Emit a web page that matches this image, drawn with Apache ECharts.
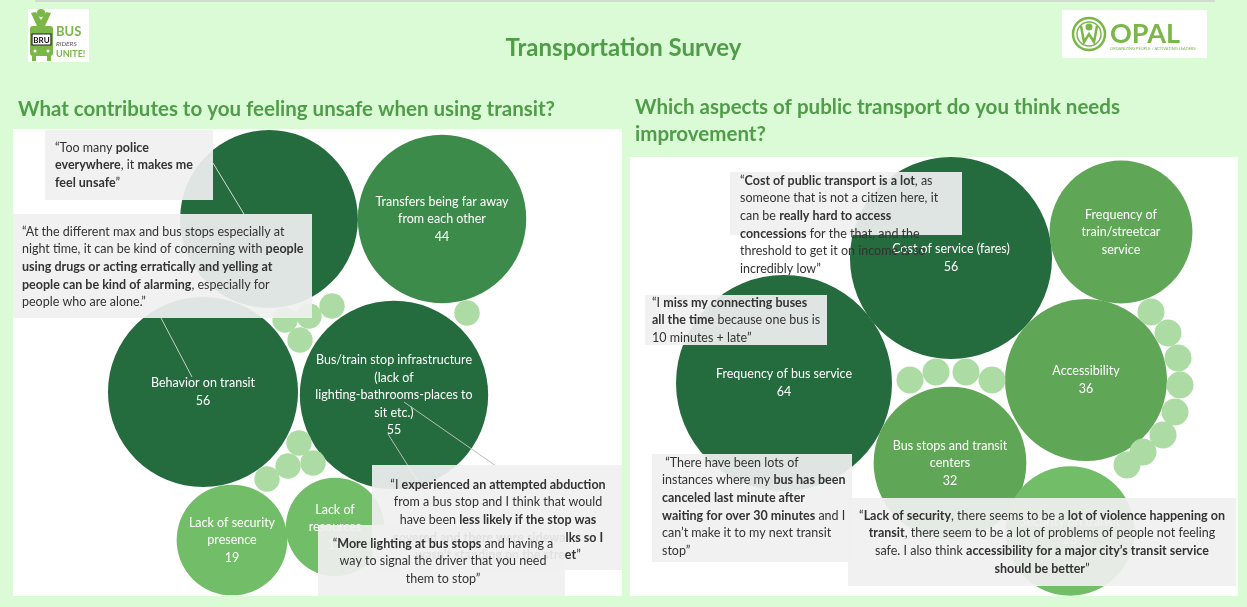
<!DOCTYPE html>
<html>
<head>
<meta charset="utf-8">
<title>Transportation Survey</title>
<script src="https://cdn.jsdelivr.net/npm/echarts@6/dist/echarts.min.js"></script>
<style>
  html, body { margin: 0; padding: 0; background: #dbfad6; }
  #chart { width: 1247px; height: 607px; }
</style>
</head>
<body>
<div id="chart"></div>
<script>
// ---- data ----
// left: "What contributes to you feeling unsafe when using transit?"
const unsafeNames = ['', 'Transfers being far away\nfrom each other', 'Behavior on transit',
  'Bus/train stop infrastructure\n(lack of\nlighting-bathrooms-places to\nsit etc.)',
  'Lack of security\npresence', 'Lack of\nresources',
  '', '', '', '', '', '', '', '', ''];
const unsafeValues = [49, 44, 56, 55, 19, 15, 1, 1, 1, 1, 1, 1, 1, 1, 1];
// packed layout of the bubbles inside the left panel (panel units)
const unsafeX = [256, 429, 190, 381, 219, 322, 319, 296, 272, 287, 454, 286, 275, 300, 254];
const unsafeY = [90, 90, 263, 266, 411, 398, 177, 187, 191, 211, 184, 314, 337, 334, 350];

// right: "Which aspects of public transport do you think needs improvement?"
const improveNames = ['Cost of service (fares)', 'Frequency of\ntrain/streetcar\nservice', 'Accessibility',
  'Frequency of bus service', 'Bus stops and transit\ncenters', 'Security on transit',
  '', '', '', '', '', '', '', '', '', '', '', ''];
const improveValues = [56, 28, 36, 64, 32, 23, 1, 1, 1, 1, 1, 1, 1, 1, 1, 1, 1, 1];
const improveX = [321, 491, 456, 154, 320, 440, 280, 306, 336, 362, 521, 538, 548, 550, 545, 533, 513, 497];
const improveY = [101, 75, 223, 226, 306, 374, 223, 215, 215, 223, 155, 176, 201, 228, 255, 278, 295, 308];

const FONT = 'Lato';
const myChart = echarts.init(document.getElementById('chart'));

function buildData(names, values, xs, ys) {
  return names.map((n, i) => {
    const item = { name: n, value: [xs[i], ys[i], values[i]] };
    if (!n) item.label = { show: false };
    return item;
  });
}
const unsafeData = buildData(unsafeNames, unsafeValues, unsafeX, unsafeY);
const improveData = buildData(improveNames, improveValues, improveX, improveY);
// tableau hid the value of the streetcar bubble
improveData[1].label = { formatter: '{b}' };

const bubbleLabel = {
  show: true,
  position: 'inside',
  color: '#ffffff',
  fontFamily: FONT,
  fontSize: 12.5,
  lineHeight: 17.5,
  formatter: p => p.name + '\n' + p.value[2]
};

// callout boxes
const rich = {
  b: { fontFamily: FONT, fontSize: 12.5, fontWeight: 'bold', color: '#222', lineHeight: 17.6 }
};
function callout(x, y, w, h, tx, ty, text, align, z) {
  return [
    { type: 'rect', z: z, shape: { x: x, y: y, width: w, height: h },
      style: { fill: 'rgba(240,240,240,0.92)' } },
    { type: 'text', z: z + 1, x: tx, y: ty,
      style: { text: text, rich: rich, font: '12.5px ' + FONT, fill: '#333', lineHeight: 17.6,
        textAlign: align, textVerticalAlign: 'top' } }
  ];
}
function leader(x1, y1, x2, y2, color, z) {
  return { type: 'line', z: z, shape: { x1: x1, y1: y1, x2: x2, y2: y2 },
    style: { stroke: color, lineWidth: 1 } };
}

const graphics = [].concat(
  // top rule
  [{ type: 'line', z: 1, shape: { x1: 35, y1: 1, x2: 1215, y2: 1 }, style: { stroke: '#cfcfcf', lineWidth: 1.5 } }],
  // BRU logo
  [
    { type: 'rect', z: 1, shape: { x: 28, y: 9, width: 61, height: 53 }, style: { fill: '#fff' } },
    { type: 'circle', z: 2, shape: { cx: 41, cy: 13, r: 4 }, style: { fill: '#7ab648' } },
    { type: 'polygon', z: 2, shape: { points: [[31, 13], [36, 12], [41, 20], [46, 12], [51, 13], [45, 26], [37, 26]] }, style: { fill: '#7ab648' } },
    { type: 'rect', z: 2, shape: { x: 30, y: 26, width: 23, height: 30, r: 3 }, style: { fill: '#7ab648' } },
    { type: 'rect', z: 3, shape: { x: 32, y: 34, width: 19, height: 11 }, style: { fill: '#fff', stroke: '#222', lineWidth: 1.2 } },
    { type: 'text', z: 4, x: 41.5, y: 40, style: { text: 'BRU', font: 'bold 8px ' + FONT, fill: '#111', textAlign: 'center', textVerticalAlign: 'middle' } },
    { type: 'circle', z: 3, shape: { cx: 35, cy: 51, r: 1.5 }, style: { fill: '#fff' } },
    { type: 'circle', z: 3, shape: { cx: 48, cy: 51, r: 1.5 }, style: { fill: '#fff' } },
    { type: 'rect', z: 2, shape: { x: 32, y: 56, width: 4, height: 5 }, style: { fill: '#7ab648' } },
    { type: 'rect', z: 2, shape: { x: 47, y: 56, width: 4, height: 5 }, style: { fill: '#7ab648' } },
    { type: 'text', z: 2, x: 56, y: 32, style: { text: 'BUS', font: 'bold 13px ' + FONT, fill: '#7ab648', textVerticalAlign: 'middle' } },
    { type: 'text', z: 2, x: 56, y: 44, style: { text: 'RIDERS', font: 'italic 6.5px ' + FONT, fill: '#555', textVerticalAlign: 'middle' } },
    { type: 'text', z: 2, x: 56, y: 54, style: { text: 'UNITE!', font: 'bold 9px ' + FONT, fill: '#7ab648', textVerticalAlign: 'middle' } }
  ],
  // OPAL logo
  [
    { type: 'rect', z: 1, shape: { x: 1062, y: 10, width: 145, height: 48 }, style: { fill: '#fff' } },
    { type: 'circle', z: 2, shape: { cx: 1089, cy: 34, r: 16 }, style: { fill: 'none', stroke: '#7ab648', lineWidth: 2.5 } },
    { type: 'circle', z: 2, shape: { cx: 1089, cy: 34, r: 12 }, style: { fill: 'none', stroke: '#7ab648', lineWidth: 1.5 } },
    { type: 'circle', z: 2, shape: { cx: 1089, cy: 27, r: 3.5 }, style: { fill: '#7ab648' } },
    { type: 'polyline', z: 2, shape: { points: [[1081, 26], [1084, 42], [1089, 34], [1094, 42], [1097, 26]] }, style: { stroke: '#7ab648', lineWidth: 2.5, fill: 'none' } },
    { type: 'text', z: 2, x: 1110, y: 34, style: { text: 'OPAL', font: 'bold 27px ' + FONT, fill: '#7ab648', textVerticalAlign: 'middle' } },
    { type: 'text', z: 2, x: 1110, y: 49, style: { text: 'ORGANIZING PEOPLE / ACTIVATING LEADERS', font: '4px ' + FONT, fill: '#7ab648', textVerticalAlign: 'middle' } }
  ],
  // left panel callouts
  callout(45, 130, 168, 70, 55, 139,
    '“Too many {b|police}\n{b|everywhere}, it {b|makes me}\n{b|feel unsafe}”', 'left', 100),
  [leader(213, 163, 244, 214, '#d6dcd8', 102)],
  callout(13, 214, 299, 104, 22, 223,
    '“At the different max and bus stops especially at\nnight time, it can be kind of concerning with {b|people}\n{b|using drugs or acting erratically and yelling at}\n{b|people can be kind of alarming}, especially for\npeople who are alone.”', 'left', 110),
  [leader(161, 318, 192, 377, '#c9cfcb', 112),
   leader(404, 402, 496, 466, '#b8bdb9', 113),
   leader(388, 434, 437, 512, '#b8bdb9', 113)],
  callout(372, 465, 250, 105, 498, 476,
    '“I {b|experienced an attempted abduction}\nfrom a bus stop and I think that would\nhave been {b|less likely if the stop was}\n{b|covered and there were sidewalks so I}\n{b|wasn’t standing on the street}”', 'center', 120),
  callout(318, 525, 247, 71, 443, 535,
    '“{b|More lighting at bus stops} and having a\nway to signal the driver that you need\nthem to stop”', 'center', 130),
  // right panel callouts
  callout(730, 172, 232, 63, 740, 172,
    '“{b|Cost of public transport is a lot}, as\nsomeone that is not a citizen here, it\ncan be {b|really hard to access}\n{b|concessions} for the that, and the\nthreshold to get it on income is so\nincredibly low”', 'left', 140),
  callout(645, 295, 182, 50, 652, 294,
    '“I {b|miss my connecting buses}\n{b|all the time} because one bus is\n10 minutes + late”', 'left', 150),
  callout(652, 454, 200, 108, 662, 454,
    ' “There have been lots of\ninstances where my {b|bus has been}\n{b|canceled last minute after}\n{b|waiting for over 30 minutes} and I\ncan’t make it to my next transit\nstop”', 'left', 160),
  callout(848, 498, 388, 88, 1042, 507,
    '“{b|Lack of security}, there seems to be a {b|lot of violence happening on}\n{b|transit}, there seem to be a lot of problems of people not feeling\nsafe. I also think {b|accessibility for a major city’s transit service}\n{b|should be better}”', 'center', 170)
);

const option = {
  backgroundColor: '#dbfad6',
  animation: false,
  title: [
    { text: 'Transportation Survey', left: 'center', top: 31,
      textStyle: { color: '#4f9d48', fontSize: 24, fontWeight: 'bold', fontFamily: FONT } },
    { text: 'What contributes to you feeling unsafe when using transit?', left: 13, top: 94,
      textStyle: { color: '#4f9d48', fontSize: 20.5, fontWeight: 'bold', fontFamily: FONT } },
    { text: 'Which aspects of public transport do you think needs\nimprovement?', left: 630, top: 89,
      textStyle: { color: '#4f9d48', fontSize: 20.5, fontWeight: 'bold', fontFamily: FONT, lineHeight: 27 } }
  ],
  grid: [
    { left: 13, top: 129, width: 609, height: 467, show: true, backgroundColor: '#fff', borderWidth: 0 },
    { left: 630, top: 157, width: 608, height: 439, show: true, backgroundColor: '#fff', borderWidth: 0 }
  ],
  xAxis: [
    { type: 'value', gridIndex: 0, min: 0, max: 609, show: false },
    { type: 'value', gridIndex: 1, min: 0, max: 608, show: false }
  ],
  yAxis: [
    { type: 'value', gridIndex: 0, min: 0, max: 467, inverse: true, show: false },
    { type: 'value', gridIndex: 1, min: 0, max: 439, inverse: true, show: false }
  ],
  visualMap: {
    type: 'piecewise', show: false, dimension: 2, seriesIndex: [0, 1],
    pieces: [
      { gte: 46, color: '#246b3d' },
      { gte: 40, lt: 46, color: '#3d8b4a' },
      { gte: 26, lt: 40, color: '#5fa756' },
      { gte: 10, lt: 26, color: '#72bd67' },
      { lt: 10, color: '#acdca4' }
    ]
  },
  series: [
    {
      name: 'unsafe', type: 'scatter', xAxisIndex: 0, yAxisIndex: 0,
      symbol: 'circle', clip: false,
      symbolSize: v => 2 * 12.7 * Math.sqrt(v[2]),
      itemStyle: { opacity: 1 },
      label: bubbleLabel,
      emphasis: { disabled: true },
      data: unsafeData
    },
    {
      name: 'improve', type: 'scatter', xAxisIndex: 1, yAxisIndex: 1,
      symbol: 'circle', clip: false,
      symbolSize: v => 2 * 13.5 * Math.sqrt(v[2]),
      itemStyle: { opacity: 1 },
      label: bubbleLabel,
      emphasis: { disabled: true },
      data: improveData
    }
  ],
  graphic: { elements: graphics }
};
myChart.setOption(option);
window.addEventListener('resize', () => {
  myChart.resize();
});
</script>
</body>
</html>
